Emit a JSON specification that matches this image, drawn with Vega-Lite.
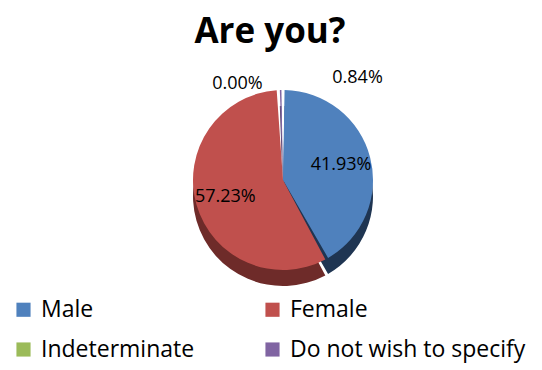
{
  "$schema": "https://vega.github.io/schema/vega-lite/v6.json",
  "autosize": "none",
  "padding": {"left": 0, "top": 60, "right": 0, "bottom": 70},
  "width": 566,
  "height": 240,
  "background": "white",
  "title": {
    "text": "Are you?",
    "font": "Open Sans",
    "fontSize": 35,
    "fontWeight": "bold",
    "color": "#000000",
    "anchor": "middle",
    "dx": -13,
    "offset": 10
  },
  "data": {
    "values": [
      {"category": "Male", "value": 41.93, "label": "41.93%"},
      {"category": "Female", "value": 57.23, "label": "57.23%"},
      {"category": "Indeterminate", "value": 0.0, "label": "0.00%"},
      {"category": "Do not wish to specify", "value": 0.84, "label": "0.84%"}
    ]
  },
  "encoding": {
    "theta": {"field": "value", "type": "quantitative", "stack": true},
    "order": {"field": "order", "type": "quantitative"}
  },
  "transform": [
    {"calculate": "indexof(['Male','Female','Indeterminate','Do not wish to specify'], datum.category)", "as": "order"}
  ],
  "layer": [
    {
      "mark": {"type": "arc", "outerRadius": 90, "padAngle": 0.035, "yOffset": 16},
      "encoding": {
        "fill": {
          "field": "category",
          "type": "nominal",
          "scale": {
            "domain": ["Male", "Female", "Indeterminate", "Do not wish to specify"],
            "range": ["#1F3552", "#6E2B29", "#5E7330", "#4D3C62"]
          },
          "legend": null
        }
      }
    },
    {
      "mark": {"type": "arc", "outerRadius": 90, "padAngle": 0.035},
      "encoding": {
        "color": {
          "field": "category",
          "type": "nominal",
          "scale": {
            "domain": ["Male", "Female", "Indeterminate", "Do not wish to specify"],
            "range": ["#4F81BD", "#C0504D", "#9BBB59", "#8064A2"]
          },
          "legend": {
            "title": null,
            "orient": "none",
            "legendX": 12,
            "legendY": 238,
            "direction": "horizontal",
            "columns": 2,
            "columnPadding": 66,
            "rowPadding": 16,
            "symbolType": "square",
            "symbolSize": 200,
            "symbolStrokeWidth": 0,
            "labelFont": "Open Sans",
            "labelFontSize": 23,
            "labelColor": "#000000",
            "labelLimit": 300,
            "labelOffset": 6
          }
        }
      }
    },
    {
      "mark": {"type": "text", "radius": 60, "font": "Open Sans", "fontSize": 18, "color": "#000000"},
      "encoding": {
        "text": {"condition": {"test": "datum.value > 5", "field": "label"}, "value": ""}
      }
    },
    {
      "mark": {"type": "text", "radius": 102, "font": "Open Sans", "fontSize": 18, "color": "#000000", "align": "right", "dx": -15, "dy": 6},
      "encoding": {
        "text": {"condition": {"test": "datum.category == 'Indeterminate'", "field": "label"}, "value": ""}
      }
    },
    {
      "mark": {"type": "text", "radius": 102, "font": "Open Sans", "fontSize": 18, "color": "#000000", "align": "left", "dx": 52, "dy": 0},
      "encoding": {
        "text": {"condition": {"test": "datum.category == 'Do not wish to specify'", "field": "label"}, "value": ""}
      }
    }
  ],
  "resolve": {"legend": {"color": "independent", "fill": "independent"}}
}
